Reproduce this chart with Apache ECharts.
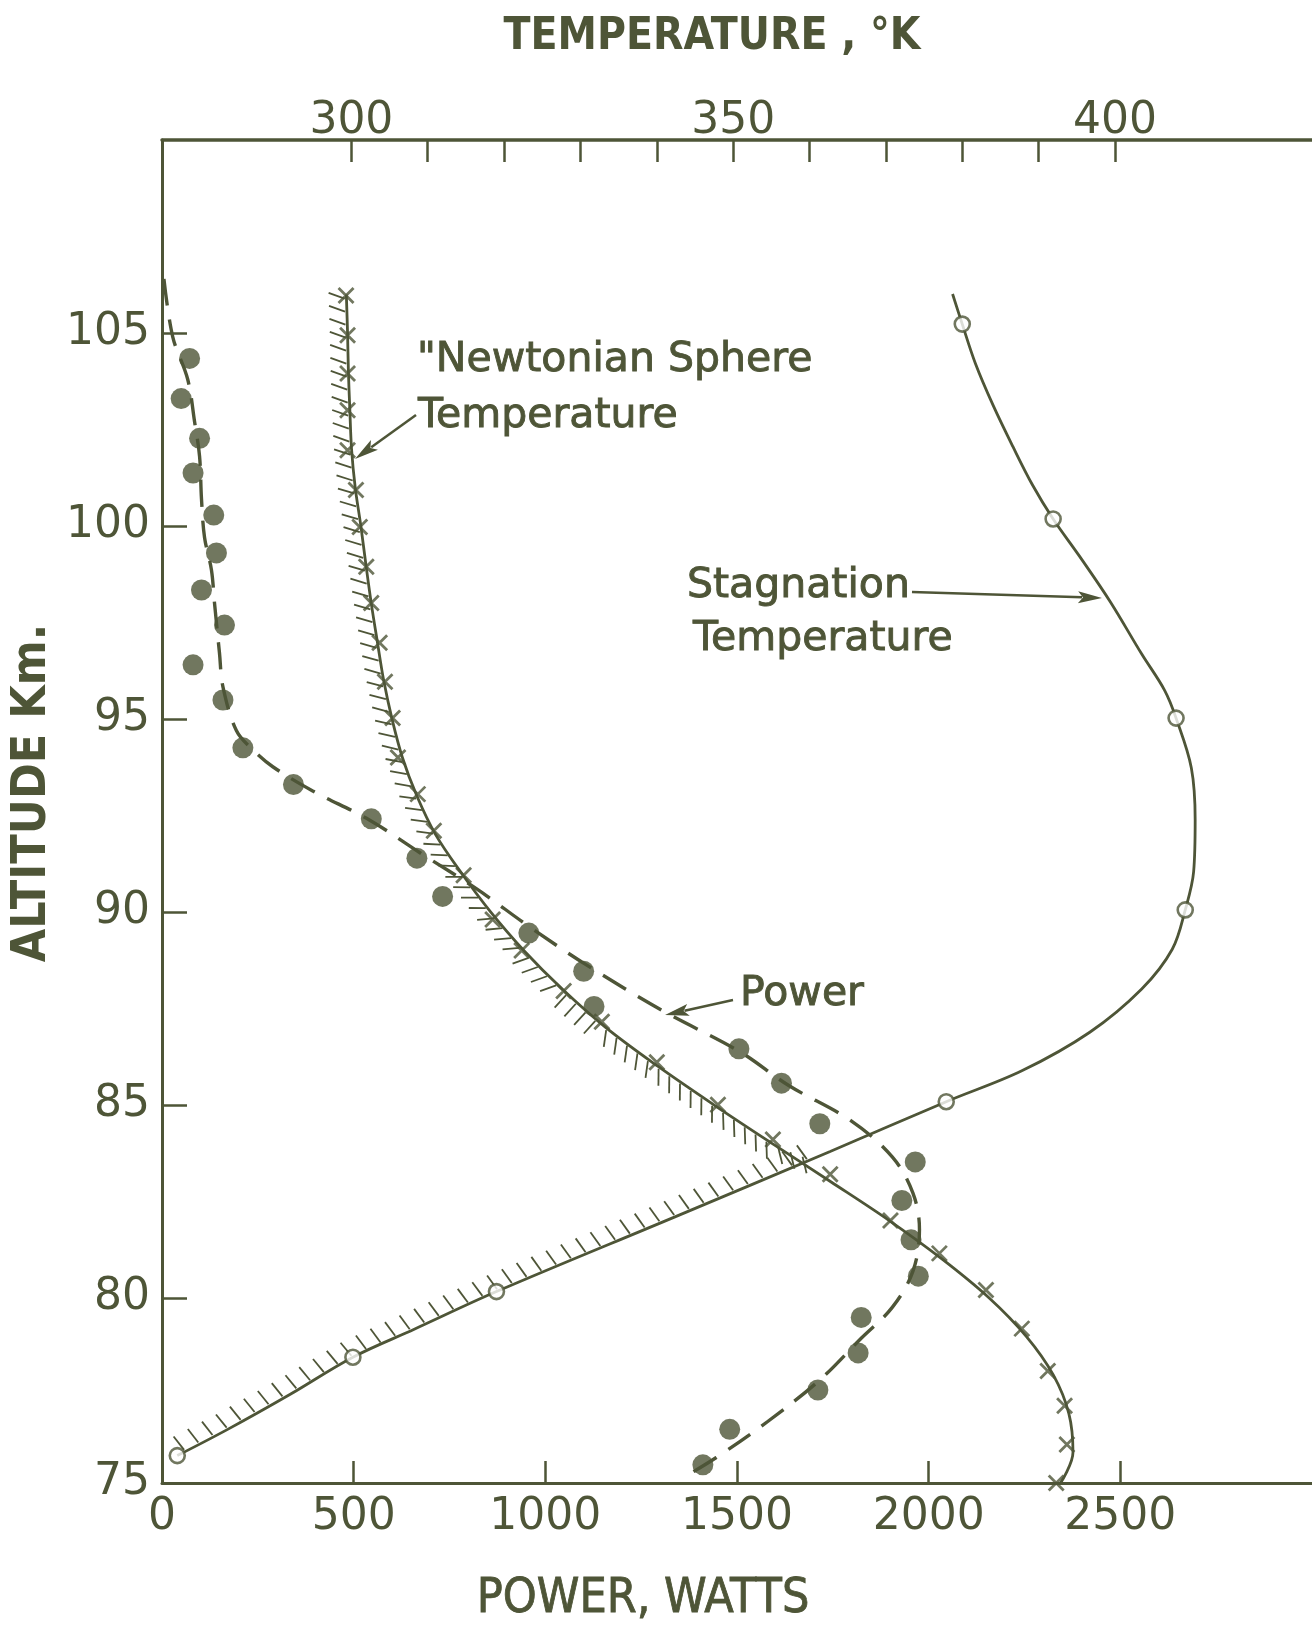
<!DOCTYPE html>
<html><head><meta charset="utf-8">
<script src="https://cdn.jsdelivr.net/npm/echarts@6/dist/echarts.min.js"></script>
<style>html,body{margin:0;padding:0;background:#fff}#c{width:1312px;height:1628px}</style>
</head><body><div id="c"></div>
<script>
const INK = '#4e5537';

// ---- axes ----
const powerTicks = [0, 500, 1000, 1500, 2000, 2500];
const tempTicks = [300, 310, 320, 330, 340, 350, 360, 370, 380, 390, 400];
const tempLabels = [300, 350, 400];
const altTicks = [80, 85, 90, 95, 100, 105];
const altLabels = [75.2, 80, 85, 90, 95, 100, 105];

// ---- Power (W, km) ----
const powerDots = [[72,104.34],[50,103.3],[98,102.27],[81,101.37],[135,100.28],[142,99.3],[103,98.34],[163,97.43],[81,96.4],[159,95.49],[211,94.25],[343,93.3],[546,92.41],[665,91.39],[732,90.4],[957,89.45],[1100,88.46],[1127,87.55],[1505,86.45],[1616,85.56],[1716,84.51],[1965,83.52],[1930,82.52],[1954,81.5],[1973,80.56],[1824,79.49],[1816,78.57],[1711,77.61],[1481,76.59],[1411,75.67]];
const powerCurve = [[5,106.4],[28,104.9],[67,103.8],[85,102.7],[98,101.8],[103,100.7],[111,99.7],[129,98.86],[137,98.0],[150,96.7],[159,95.83],[194,94.7],[237,94.2],[289,93.76],[392,93.14],[541,92.38],[670,91.55],[820,90.6],[959,89.61],[1108,88.62],[1311,87.41],[1505,86.39],[1635,85.5],[1797,84.59],[1905,83.65],[1959,82.71],[1976,81.77],[1959,80.69],[1905,79.75],[1824,78.95],[1716,77.87],[1581,76.8],[1446,75.86],[1357,75.32]];

// ---- Newtonian sphere temperature (K, km) ----
const newtonCurve = [[299.34,106],[299.5,105],[299.61,104],[299.8,103],[300.02,102],[300.5,101],[301.24,100],[301.9,99],[302.6,98],[303.4,97],[304.23,96],[305.32,95],[306.68,94],[308.58,93],[311.03,92],[314.43,91],[318.23,90],[322.58,89],[327.61,88],[333.33,87],[340.12,86],[347.46,85],[355.08,84],[362.83,83],[370.44,82],[377.37,81],[383.49,80],[388.38,79],[391.92,78],[393.96,77],[394.5,76],[392.87,75.2]];
const newtonMarks = [[392.3,75.2],[393.7,76.2],[393.4,77.2],[391.2,78.1],[387.8,79.2],[383.1,80.2],[377.0,81.15],[370.6,82.0],[362.7,83.2],[355.2,84.1],[348.0,85.0],[340.0,86.1],[332.8,87.15],[327.8,87.95],[322.3,89.0],[318.5,89.8],[314.7,90.95],[310.8,92.1],[308.7,93.05],[306.1,94.0],[305.4,95.02],[304.4,95.96],[303.7,96.97],[302.6,98.0],[301.95,98.94],[301.1,99.97],[300.6,100.93],[299.5,101.96],[299.5,103.0],[299.5,103.95],[299.5,104.94],[299.3,105.97]];

// ---- Stagnation temperature (K, km) ----
const stagCurve = [[378.73,106.01],[380.0,105.23],[381.72,104.21],[384.03,103.13],[386.62,102.06],[389.2,101.06],[391.9,100.18],[395.3,99.23],[399.4,98.03],[403.5,96.68],[406.5,95.74],[408.0,95.02],[410.0,93.73],[410.5,92.38],[410.3,91.04],[409.2,90.05],[407.5,89.03],[403.5,88.0],[396.7,86.88],[387.8,85.88],[377.9,85.08],[362.7,83.79],[342.3,82.09],[319.0,80.16],[308.3,79.19],[300.2,78.46],[292.0,77.5],[283.8,76.59],[277.2,75.91]];
const stagCircles = [[380.0,105.23],[391.9,100.18],[408.0,95.02],[409.2,90.05],[377.9,85.08],[319.0,80.16],[300.2,78.46],[277.2,75.91]];

// where the two temperature curves cross (K, km); hatching switches curves here
const crossing = [360.4, 83.6];
const hatchCurves = [
  {pts: newtonCurve.filter(p => p[1] > crossing[1]).concat([crossing]), step: 13},
  {pts: [crossing].concat(stagCurve.filter(p => p[1] < crossing[1])), step: 16}
];

const chart = echarts.init(document.getElementById('c'), null, {renderer: 'canvas'});
const FONT = 'DejaVu Sans';
const CFONT = '"DejaVu Sans Condensed", "Liberation Sans Narrow", "DejaVu Sans"';

function arrow(x1, y1, x2, y2) {
  const dx = x2 - x1, dy = y2 - y1, L = Math.hypot(dx, dy);
  const ux = dx / L, uy = dy / L, hl = 24, hw = 6;
  const bx = x2 - ux * hl, by = y2 - uy * hl;
  return [
    {type: 'line', shape: {x1, y1, x2: bx + ux * 4, y2: by + uy * 4}, style: {stroke: INK, lineWidth: 2.5}},
    {type: 'polygon', shape: {points: [[x2, y2], [bx - uy * hw, by + ux * hw], [bx + ux * 5, by + uy * 5], [bx + uy * hw, by - ux * hw]]}, style: {fill: INK}}
  ];
}
function txt(text, x, y, size, style, el) {
  return Object.assign({type: 'text', x, y, style: Object.assign({text, fill: INK, fontSize: size, fontFamily: CFONT, align: 'left', verticalAlign: 'middle'}, style || {})}, el || {});
}
const note = {fontFamily: FONT, stroke: INK, lineWidth: 0.9};

const labelStyle = {color: INK, fontSize: 44, fontFamily: FONT};
const option = {
  animation: false,
  backgroundColor: '#ffffff',
  grid: {left: 162, right: 0, top: 140, bottom: 145, containLabel: false},
  xAxis: [
    {type: 'value', position: 'bottom', min: 0, max: 3000, interval: 500,
      axisLine: {show: true, onZero: false, lineStyle: {color: INK, width: 3}},
      axisTick: {show: true, inside: true, length: 22, customValues: powerTicks, lineStyle: {color: INK, width: 2.5}},
      axisLabel: Object.assign({margin: 13, customValues: powerTicks, formatter: v => String(v)}, labelStyle),
      splitLine: {show: false}},
    {type: 'value', position: 'top', min: 275.2, max: 425.8,
      axisLine: {show: true, onZero: false, lineStyle: {color: INK, width: 3.5}},
      axisTick: {show: true, inside: true, length: 22, customValues: tempTicks, lineStyle: {color: INK, width: 2.5}},
      axisLabel: Object.assign({margin: -4, customValues: tempLabels, formatter: v => String(Math.round(v))}, labelStyle),
      splitLine: {show: false}}
  ],
  yAxis: [
    {type: 'value', min: 75.2, max: 110,
      axisLine: {show: true, onZero: false, lineStyle: {color: INK, width: 3}},
      axisTick: {show: true, inside: true, length: 25, customValues: altTicks, lineStyle: {color: INK, width: 2.5}},
      axisLabel: Object.assign({margin: 12, customValues: altLabels, formatter: v => String(Math.round(v))}, labelStyle),
      splitLine: {show: false}}
  ],
  series: [
    {type: 'custom', xAxisIndex: 1, yAxisIndex: 0, data: hatchCurves.map((c, i) => i), silent: true, z: 1,
      renderItem: function (params, api) {
        const spec = hatchCurves[params.dataIndex];
        const pts = spec.pts.map(p => api.coord(p));
        const seg = [];
        let total = 0;
        for (let i = 1; i < pts.length; i++) {
          const l = Math.hypot(pts[i][0] - pts[i-1][0], pts[i][1] - pts[i-1][1]);
          seg.push(l); total += l;
        }
        const children = [];
        const len = 19, bx = -0.75, by = -0.66;
        for (let s = 5; s < total - 2; s += spec.step) {
          let acc = 0, k = 0;
          while (k < seg.length - 1 && acc + seg[k] < s) { acc += seg[k]; k++; }
          const f = (s - acc) / seg[k];
          const p0 = pts[k], p1 = pts[k+1];
          const x = p0[0] + (p1[0] - p0[0]) * f, y = p0[1] + (p1[1] - p0[1]) * f;
          const tx = (p1[0] - p0[0]) / seg[k], ty = (p1[1] - p0[1]) / seg[k];
          const nx = -ty, ny = tx;
          const m = 1.0 * Math.tanh(8 * (nx * bx + ny * by));
          let hx = nx + m * bx, hy = ny + m * by;
          const hl = Math.hypot(hx, hy); hx /= hl; hy /= hl;
          children.push({type: 'line', shape: {x1: x + hx * 2, y1: y + hy * 2, x2: x + hx * len, y2: y + hy * len}, style: {stroke: INK, lineWidth: 1.8}});
        }
        return {type: 'group', children};
      }},
    {type: 'line', xAxisIndex: 1, data: newtonCurve, smooth: 0.35, showSymbol: false, symbol: 'none', z: 2,
      lineStyle: {color: INK, width: 2.8}},
    {type: 'scatter', xAxisIndex: 1, data: newtonMarks, symbol: 'path://M0,0L10,10M10,0L0,10', symbolSize: 15, z: 3,
      itemStyle: {color: 'rgba(0,0,0,0)', borderColor: INK, borderWidth: 2.8}},
    {type: 'line', xAxisIndex: 1, data: stagCurve, smooth: 0.35, showSymbol: false, symbol: 'none', z: 2,
      lineStyle: {color: INK, width: 2.8}},
    {type: 'scatter', xAxisIndex: 1, data: stagCircles, symbol: 'circle', symbolSize: 15, z: 4,
      itemStyle: {color: '#ffffff', borderColor: INK, borderWidth: 2.6}},
    {type: 'line', xAxisIndex: 0, data: powerCurve, smooth: 0.35, showSymbol: false, symbol: 'none', z: 2,
      lineStyle: {color: INK, width: 3.4, type: [27, 14]}},
    {type: 'scatter', xAxisIndex: 0, data: powerDots, symbol: 'circle', symbolSize: 21, z: 4,
      itemStyle: {color: INK}}
  ],
  graphic: [].concat(
    [txt('TEMPERATURE , °K', 712, 38, 44, {align: 'center', fontWeight: 'bold'}),
     txt('POWER, WATTS', 643, 1600, 48, {align: 'center', stroke: INK, lineWidth: 0.8}),
     txt('ALTITUDE Km.', 33, 793, 48, {align: 'center', fontWeight: 'bold'}, {rotation: Math.PI / 2}),
     txt('"Newtonian Sphere', 417, 360, 41, note),
     txt('Temperature', 418, 416, 41, note),
     txt('Stagnation', 687, 586, 41, note),
     txt('Temperature', 693, 639, 41, note),
     txt('Power', 740, 994, 41, note)],
    arrow(416, 415, 355, 459),
    arrow(912, 592, 1102, 598),
    arrow(733, 1000, 665, 1015)
  )
};
chart.setOption(option);
</script></body></html>
